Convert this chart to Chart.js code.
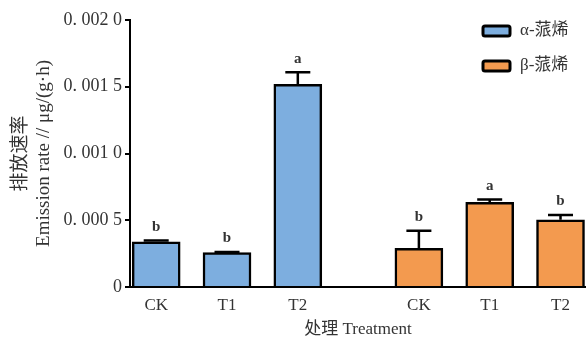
<!DOCTYPE html>
<html>
<head>
<meta charset="utf-8">
<script src="https://cdn.jsdelivr.net/npm/chart.js@4/dist/chart.umd.min.js"></script>
<style>
  html, body { margin: 0; padding: 0; background: #fff; }
  #wrap { width: 586px; height: 340px; }
</style>
</head>
<body>
<div id="wrap"><canvas id="c"></canvas></div>
<script>
// ─── Data ───────────────────────────────────────────────────────────────────
const categories   = ['CK', 'T1', 'T2'];
const seriesNames  = ['α-蒎烯', 'β-蒎烯'];
const alphaValues  = [0.000339, 0.000257, 0.001518];
const alphaErrors  = [0.000010, 0.000005, 0.000090];
const alphaLetters = ['b', 'b', 'a'];
const betaValues   = [0.000290, 0.000634, 0.000504];
const betaErrors   = [0.000132, 0.000022, 0.000035];
const betaLetters  = ['b', 'a', 'b'];
const yTickLabels  = ['0', '0. 000 5', '0. 001 0', '0. 001 5', '0. 002 0'];

const SERIF = '"Liberation Serif", "Noto Sans CJK SC", serif';
const GROUP_GAP = 1.71;  // distance between the last alpha bar and the first beta bar, in slots

const alphaX = categories.map((_, i) => i);
const betaX  = categories.map((_, i) => i + 2 + GROUP_GAP);
const tickPositions = [...alphaX, ...betaX];
const tickNames     = [...categories, ...categories];

// Plugin: error bars + significance letters
const errorBarsPlugin = {
  id: 'errorBars',
  afterDatasetsDraw(chart) {
    const { ctx, scales: { y } } = chart;
    ctx.save();
    chart.data.datasets.forEach((ds, di) => {
      const meta = chart.getDatasetMeta(di);
      meta.data.forEach((bar, i) => {
        const top = y.getPixelForValue(ds.data[i].y + ds.errors[i]);
        ctx.strokeStyle = '#000';
        ctx.lineWidth = 2.5;
        ctx.beginPath();
        ctx.moveTo(bar.x, bar.y);
        ctx.lineTo(bar.x, top);
        ctx.moveTo(bar.x - 12.5, top);
        ctx.lineTo(bar.x + 12.5, top);
        ctx.stroke();
        ctx.fillStyle = '#333';
        ctx.font = 'bold 15px ' + SERIF;
        ctx.textAlign = 'center';
        ctx.textBaseline = 'bottom';
        ctx.fillText(ds.letters[i], bar.x, top - 6);
      });
    });
    ctx.restore();
  },
};

// Plugin: legend in the top-right corner of the plot
const cornerLegendPlugin = {
  id: 'cornerLegend',
  afterDraw(chart) {
    const { ctx } = chart;
    ctx.save();
    chart.data.datasets.forEach((ds, i) => {
      const bx = 483, by = 26 + i * 35;
      ctx.fillStyle = ds.backgroundColor;
      ctx.strokeStyle = '#000';
      ctx.lineWidth = 3;
      ctx.beginPath();
      ctx.roundRect(bx, by, 27, 10, 2);
      ctx.fill();
      ctx.stroke();
      ctx.fillStyle = '#333';
      ctx.font = '17px ' + SERIF;
      ctx.textAlign = 'left';
      ctx.textBaseline = 'middle';
      ctx.fillText(ds.label, bx + 37, by + 5);
    });
    ctx.restore();
  },
};

new Chart(document.getElementById('c'), {
  type: 'bar',
  data: {
    datasets: [
      {
        label: seriesNames[0],
        data: alphaX.map((x, i) => ({ x, y: alphaValues[i] })),
        errors: alphaErrors,
        letters: alphaLetters,
        backgroundColor: '#7daedf',
        borderColor: '#000',
        borderWidth: 2.5,
      },
      {
        label: seriesNames[1],
        data: betaX.map((x, i) => ({ x, y: betaValues[i] })),
        errors: betaErrors,
        letters: betaLetters,
        backgroundColor: '#f39a4f',
        borderColor: '#000',
        borderWidth: 2.5,
      },
    ],
  },
  plugins: [errorBarsPlugin, cornerLegendPlugin],
  options: {
    responsive: true,
    maintainAspectRatio: false,
    animation: false,
    grouped: false,
    barThickness: 48,
    layout: { padding: { top: 20, right: 0, left: 10, bottom: 0 } },
    plugins: {
      legend: { display: false },
      tooltip: { enabled: false },
    },
    scales: {
      x: {
        type: 'linear',
        offset: false,
        min: -0.37,
        max: 6.07,
        grid: { display: false },
        border: { display: true, color: '#000', width: 2 },
        afterBuildTicks: axis => { axis.ticks = tickPositions.map(v => ({ value: v })); },
        afterFit: axis => { axis.height = 53; },
        ticks: {
          color: '#333',
          font: { family: SERIF, size: 17 },
          padding: 0,
          autoSkip: false,
          maxRotation: 0,
          callback: v => tickNames[tickPositions.indexOf(v)] ?? '',
        },
        title: {
          display: true,
          text: '处理 Treatment',
          color: '#333',
          font: { family: SERIF, size: 17 },
          padding: { top: 2, bottom: 0 },
        },
      },
      y: {
        min: 0,
        max: 0.002,
        grid: { drawOnChartArea: false, drawTicks: true, tickLength: 5, color: '#000', lineWidth: 2 },
        border: { display: true, color: '#000', width: 2 },
        afterFit: axis => { axis.width = 120; },
        ticks: {
          stepSize: 0.0005,
          color: '#333',
          font: { family: SERIF, size: 18 },
          padding: 3,
          callback: (v, i) => yTickLabels[i],
        },
        title: {
          display: true,
          text: ['排放速率', 'Emission rate // μg/(g·h)'],
          color: '#333',
          font: { family: SERIF, size: 19 },
          padding: { top: 0, bottom: 4 },
        },
      },
    },
  },
});
</script>
</body>
</html>
